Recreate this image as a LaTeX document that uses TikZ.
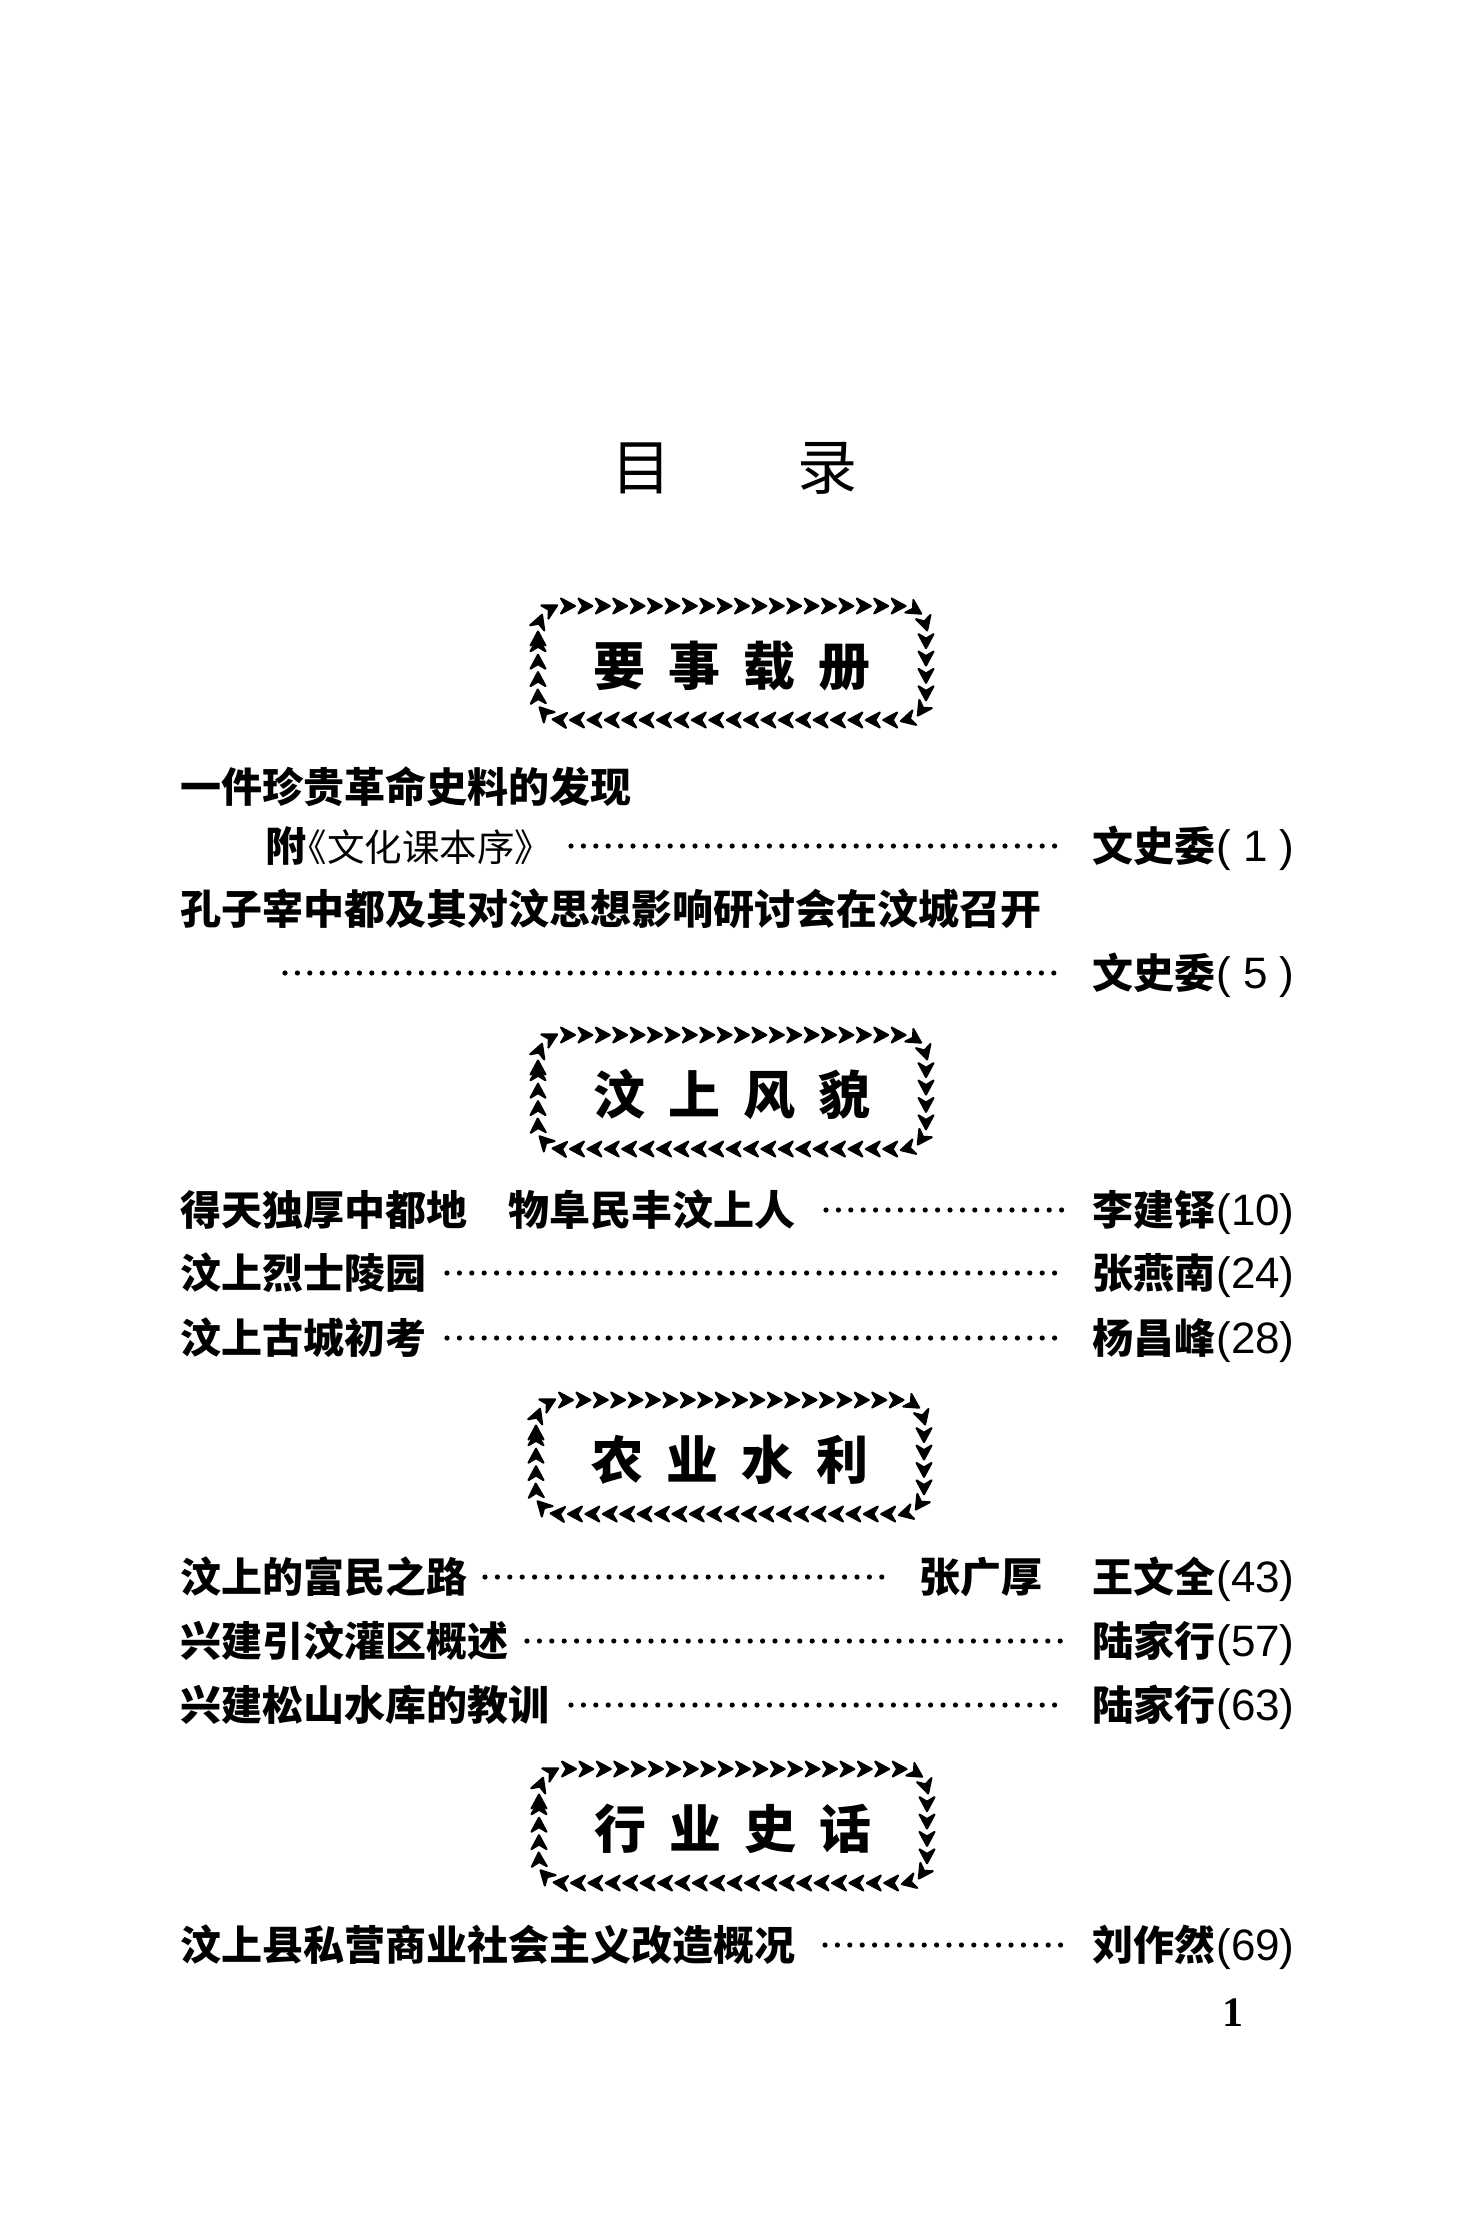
\documentclass[tikz,border=0pt]{standalone}
\usepackage{fontspec}
\setmainfont{Liberation Serif}
\newfontfamily\cjk{Noto Sans CJK SC}
\newfontfamily\numf{Liberation Sans}
\usetikzlibrary{decorations.markings}
\tikzset{
  entry/.style={anchor=west, inner sep=0pt, font=\cjk\bfseries\fontsize{20.5}{24}\selectfont, text height=18pt, text depth=2.5pt},
  author/.style={entry},
  pnum/.style={anchor=east, inner sep=0pt, font=\numf\fontsize{22}{24}\selectfont, text height=18pt, text depth=2.5pt},
  leader/.style={line width=2.6pt, line cap=round, dash pattern=on 0pt off 6.2pt},
  heading/.style={inner sep=0pt, font=\cjk\bfseries\fontsize{26}{30}\selectfont, text height=22.9pt, text depth=3.1pt},
  titlechar/.style={inner sep=0pt, font=\cjk\fontsize{30}{34}\selectfont},
  chevframe/.style={rounded corners=12pt, decorate,
    decoration={markings, mark=between positions 0 and 0.995 step 8.7pt with
      {\filldraw[sharp corners, line width=1pt, line join=round] (7.5,0) -- (-6.5,-7.5) -- (-2,0) -- (-6.5,7.5) -- cycle;}}},
}
\newcommand\ChevFrame[4]{%
  \path[chevframe] ({#2-194},{#3}) -- ({#2-194},{#3-57}) -- ({#2+194},{#3-57}) -- ({#2+194},{#3+57}) -- ({#2-194},{#3+57}) -- cycle;
  \node[heading] (#1) at (#2,{#3+3}) {#4};
}
\newcommand\HG{\hspace{11.5pt}}
\newcommand\LQ{\makebox[0.55em][r]{《}}
\newcommand\RQ{\makebox[0.55em][l]{》}}
\begin{document}
\begin{tikzpicture}[x=0.5pt,y=-0.5pt]
\useasboundingbox (0,0) rectangle (1463,2234);
\fill[white] (0,0) rectangle (1463,2234);

% title
\node[titlechar] (tmu) at (641,468) {目};
\node[titlechar] (tlu) at (827,468) {录};

% section 1
\ChevFrame{h1}{732}{663}{要\HG 事\HG 载\HG 册}
\node[entry] (t1) at (180,787) {一件珍贵革命史料的发现};
\node[entry] (t2) at (265,846) {附{\mdseries\fontsize{18.75}{22}\selectfont\LQ 文化课本序\RQ}};
\node[author] (a2) at (1092,846) {文史委};
\node[pnum] (p2) at (1295,846) {(\makebox[1.112em][c]{1})};
\coordinate (d2) at (571,846);
\draw[leader] (d2) -- ([xshift=-15pt]a2.west);
\node[entry] (t3) at (180,909) {孔子宰中都及其对汶思想影响研讨会在汶城召开};
\node[author] (a4) at (1092,973) {文史委};
\node[pnum] (p4) at (1295,973) {(\makebox[1.112em][c]{5})};
\coordinate (d4) at (285,973);
\draw[leader] (d4) -- ([xshift=-15pt]a4.west);

% section 2
\ChevFrame{h2}{732}{1092}{汶\HG 上\HG 风\HG 貌}
\node[entry] (t5) at (180,1210) {得天独厚中都地　物阜民丰汶上人};
\node[author] (a5) at (1092,1210) {李建铎};
\node[pnum] (p5) at (1295,1210) {(10)};
\coordinate (d5) at (826,1210);
\draw[leader] (d5) -- ([xshift=-15pt]a5.west);
\node[entry] (t6) at (180,1273) {汶上烈士陵园};
\node[author] (a6) at (1092,1273) {张燕南};
\node[pnum] (p6) at (1295,1273) {(24)};
\coordinate (d6) at (447,1273);
\draw[leader] (d6) -- ([xshift=-15pt]a6.west);
\node[entry] (t7) at (180,1338) {汶上古城初考};
\node[author] (a7) at (1092,1338) {杨昌峰};
\node[pnum] (p7) at (1295,1338) {(28)};
\coordinate (d7) at (447,1338);
\draw[leader] (d7) -- ([xshift=-15pt]a7.west);

% section 3
\ChevFrame{h3}{730}{1457}{农\HG 业\HG 水\HG 利}
\node[entry] (t8) at (180,1577) {汶上的富民之路};
\node[author] (c8) at (919,1577) {张广厚};
\node[author] (a8) at (1092,1577) {王文全};
\node[pnum] (p8) at (1295,1577) {(43)};
\coordinate (d8) at (485,1577);
\draw[leader] (d8) -- ([xshift=-13pt]c8.west);
\node[entry] (t9) at (180,1641) {兴建引汶灌区概述};
\node[author] (a9) at (1092,1641) {陆家行};
\node[pnum] (p9) at (1295,1641) {(57)};
\coordinate (d9) at (527,1641);
\draw[leader] (d9) -- ([xshift=-15pt]a9.west);
\node[entry] (t10) at (180,1705) {兴建松山水库的教训};
\node[author] (a10) at (1092,1705) {陆家行};
\node[pnum] (p10) at (1295,1705) {(63)};
\coordinate (d10) at (571,1705);
\draw[leader] (d10) -- ([xshift=-15pt]a10.west);

% section 4
\ChevFrame{h4}{733}{1826}{行\HG 业\HG 史\HG 话}
\node[entry] (t11) at (180,1945) {汶上县私营商业社会主义改造概况};
\node[author] (a11) at (1092,1945) {刘作然};
\node[pnum] (p11) at (1295,1945) {(69)};
\coordinate (d11) at (825,1945);
\draw[leader] (d11) -- ([xshift=-15pt]a11.west);

% page number
\node[inner sep=0pt, font=\fontsize{21}{24}\selectfont\bfseries] (pg) at (1233,2013) {1};
\end{tikzpicture}
\end{document}
